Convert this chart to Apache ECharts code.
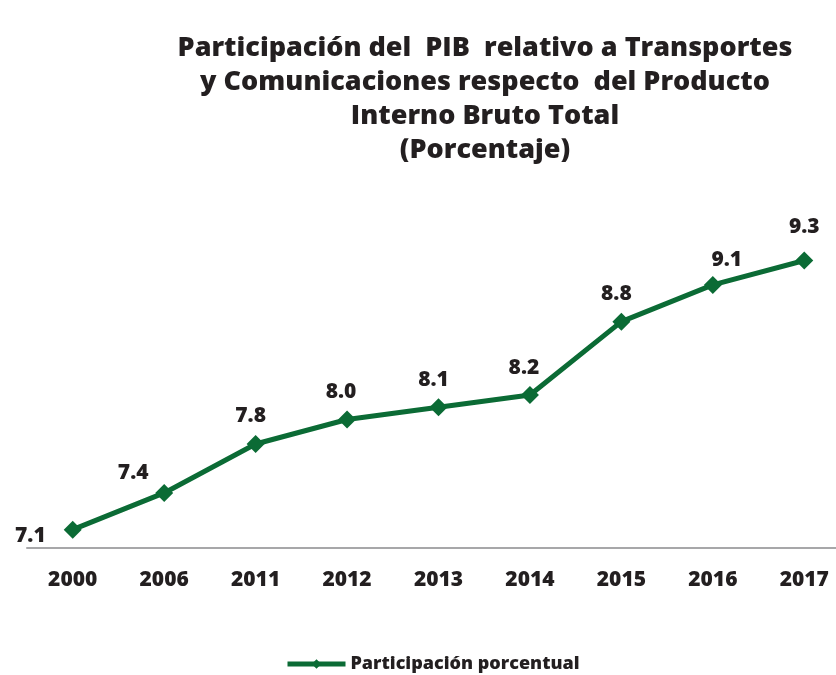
<!DOCTYPE html>
<html>
<head>
<meta charset="utf-8">
<script src="https://cdn.jsdelivr.net/npm/echarts@6/dist/echarts.min.js"></script>
<style>
  html, body { margin: 0; padding: 0; background: #fff; }
  #main { width: 836px; height: 675px; }
</style>
</head>
<body>
<div id="main"></div>
<script>
const years = ['2000', '2006', '2011', '2012', '2013', '2014', '2015', '2016', '2017']
const participacion = [7.1, 7.4, 7.8, 8.0, 8.1, 8.2, 8.8, 9.1, 9.3]

// label placement per point (as in the original)
const labelPos = ['left', 'top', 'top', 'top', 'top', 'top', 'top', 'top', 'top']
const labelOffset = [[-6, 6], [-31, 12], [-5, 4], [-6, 4], [-5, 4], [-6, 4], [-5, 4], [14, 7], [0, -2]]

const green = '#0b6b35'
const font = '"Open Sans", "DejaVu Sans", sans-serif'

const chart = echarts.init(document.getElementById('main'))
chart.setOption({
  animation: false,
  title: {
    text: 'Participación del  PIB  relativo a Transportes\ny Comunicaciones respecto  del Producto\nInterno Bruto Total\n(Porcentaje)',
    left: 480,
    top: 26,
    textAlign: 'center',
    textStyle: {
      fontFamily: font,
      fontWeight: 800,
      fontSize: 27,
      lineHeight: 34,
      color: '#231f20'
    }
  },
  legend: {
    bottom: -3,
    left: 280,
    data: ['Participación porcentual'],
    itemWidth: 58,
    itemHeight: 12,
    itemGap: 3,
    lineStyle: { width: 5 },
    textStyle: {
      fontFamily: font,
      fontWeight: 800,
      fontSize: 18,
      color: '#231f20'
    }
  },
  grid: {
    left: 27,
    width: 823,
    top: 236,
    bottom: 127,
    outerBoundsMode: 'none',
    containLabel: false
  },
  xAxis: {
    type: 'category',
    data: years,
    boundaryGap: true,
    axisTick: { show: false },
    axisLine: { lineStyle: { color: '#a7a7a9', width: 2 } },
    axisLabel: {
      margin: 22,
      fontFamily: font,
      fontWeight: 800,
      fontSize: 21,
      color: '#231f20'
    }
  },
  yAxis: {
    type: 'value',
    min: 6.95,
    max: 9.5,
    show: false,
    splitLine: { show: false }
  },
  series: [{
    name: 'Participación porcentual',
    type: 'line',
    data: participacion.map((v, i) => ({
      value: v,
      label: { position: labelPos[i], offset: labelOffset[i] }
    })),
    symbol: 'diamond',
    symbolSize: 18,
    lineStyle: { color: green, width: 5 },
    itemStyle: { color: green },
    label: {
      show: true,
      distance: 12,
      formatter: p => p.value.toFixed(1),
      fontFamily: font,
      fontWeight: 800,
      fontSize: 21,
      color: '#231f20'
    }
  }]
})
</script>
</body>
</html>
